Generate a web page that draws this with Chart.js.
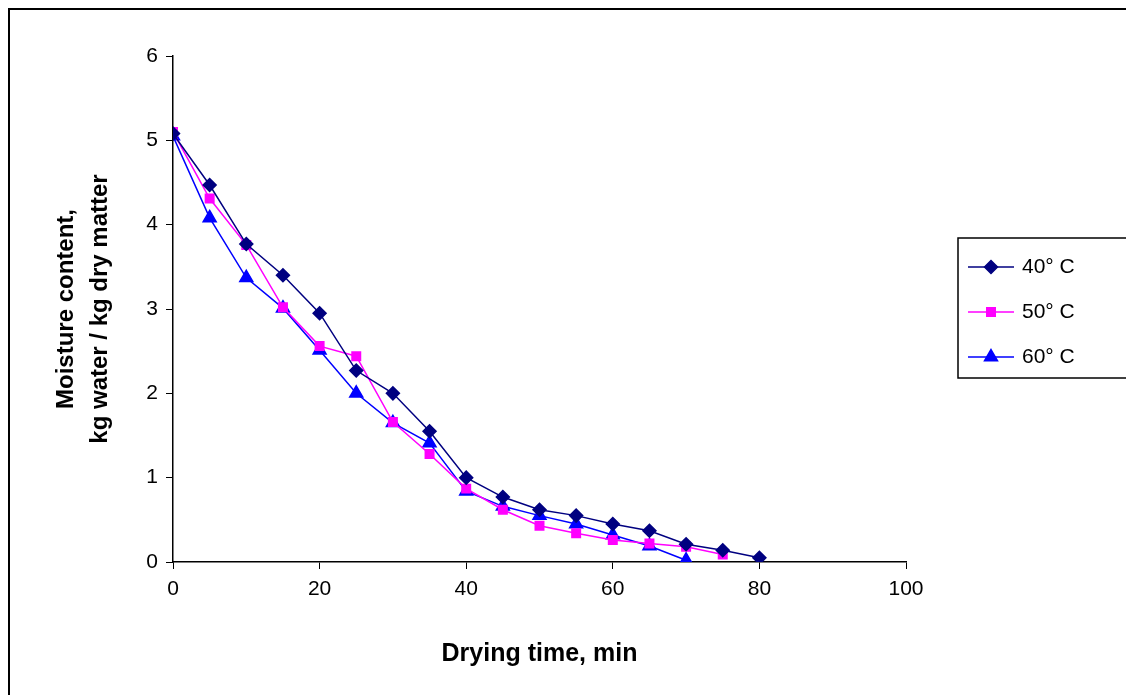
<!DOCTYPE html>
<html>
<head>
<meta charset="utf-8">
<script src="https://cdn.jsdelivr.net/npm/chart.js@4"></script>
<style>
  body { margin: 0; background: #fff; }
  #frame { position: absolute; left: 8px; top: 8px; width: 1130px; height: 690px; border: 2px solid #000; }
  #wrap { position: absolute; left: 0; top: 0; width: 1126px; height: 695px; }
</style>
</head>
<body>
<div id="frame"></div>
<div id="wrap"><canvas id="dryingChart"></canvas></div>
<script>
var time40 = [0, 5, 10, 15, 20, 25, 30, 35, 40, 45, 50, 55, 60, 65, 70, 75, 80];
var moisture40 = [5.08, 4.47, 3.77, 3.40, 2.95, 2.27, 2.00, 1.55, 1.00, 0.77, 0.62, 0.55, 0.45, 0.37, 0.21, 0.14, 0.05];
var time50 = [0, 5, 10, 15, 20, 25, 30, 35, 40, 45, 50, 55, 60, 65, 70, 75];
var moisture50 = [5.10, 4.31, 3.76, 3.02, 2.56, 2.44, 1.66, 1.28, 0.87, 0.62, 0.43, 0.34, 0.26, 0.22, 0.18, 0.09];
var time60 = [0, 5, 10, 15, 20, 25, 30, 35, 40, 45, 50, 55, 60, 65, 70];
var moisture60 = [5.05, 4.08, 3.37, 3.01, 2.51, 2.00, 1.65, 1.41, 0.84, 0.66, 0.55, 0.45, 0.32, 0.19, 0.02];
var seriesNames = ['40\u00b0 C', '50\u00b0 C', '60\u00b0 C'];

function pts(xs, ys) { return xs.map((x, i) => ({ x: x, y: ys[i] })); }

var font = 'Liberation Sans, Arial, sans-serif';

var boxLegend = {
    id: 'boxLegend',
    afterDraw: function(chart) {
        var ctx = chart.ctx;
        ctx.save();
        ctx.strokeStyle = '#000';
        ctx.lineWidth = 1.5;
        ctx.strokeRect(958, 238, 180, 140);
        chart.data.datasets.forEach(function(ds, i) {
            var y = 267 + i * 45;
            ctx.strokeStyle = ds.borderColor;
            ctx.lineWidth = 1.5;
            ctx.beginPath(); ctx.moveTo(968, y); ctx.lineTo(1014, y); ctx.stroke();
            ctx.fillStyle = ds.pointBackgroundColor;
            ctx.strokeStyle = ds.pointBackgroundColor;
            Chart.helpers.drawPoint(ctx, { pointStyle: ds.pointStyle, radius: ds.pointRadius, borderWidth: 1 }, 991, y);
            ctx.fillStyle = '#000';
            ctx.font = '21px ' + font;
            ctx.textBaseline = 'middle';
            ctx.fillText(ds.label, 1022, y);
        });
        ctx.restore();
    }
};

var ctx = document.getElementById('dryingChart').getContext('2d');
new Chart(ctx, {
    type: 'line',
    data: {
        datasets: [
            { label: seriesNames[0], data: pts(time40, moisture40), borderColor: '#000080', backgroundColor: '#000080',
              pointBackgroundColor: '#000080', pointStyle: 'rectRot', pointRadius: 6.5, borderWidth: 1.5 },
            { label: seriesNames[1], data: pts(time50, moisture50), borderColor: '#FF00FF', backgroundColor: '#FF00FF',
              pointBackgroundColor: '#FF00FF', pointStyle: 'rect', pointRadius: 6, borderWidth: 1.5 },
            { label: seriesNames[2], data: pts(time60, moisture60), borderColor: '#0000FF', backgroundColor: '#0000FF',
              pointBackgroundColor: '#0000FF', pointStyle: 'triangle', pointRadius: 7.5, borderWidth: 1.5 }
        ]
    },
    options: {
        responsive: true,
        maintainAspectRatio: false,
        animation: false,
        layout: { padding: { left: 46, top: 56, right: 220, bottom: 22 } },
        plugins: { legend: { display: false }, tooltip: { enabled: false } },
        scales: {
            x: {
                type: 'linear', min: 0, max: 100,
                ticks: { stepSize: 20, color: '#000', font: { size: 21, family: font }, padding: 8 },
                grid: { drawOnChartArea: false, color: '#000', tickLength: 7 },
                border: { color: '#000', width: 1.5 },
                title: { display: true, text: 'Drying time, min', color: '#000', font: { size: 25, weight: 'bold', family: font }, padding: { top: 16 } },
                afterFit: function(s) { s.height = 111; }
            },
            y: {
                min: 0, max: 6,
                ticks: { stepSize: 1, color: '#000', font: { size: 21, family: font }, padding: 8 },
                grid: { drawOnChartArea: false, color: '#000', tickLength: 7 },
                border: { color: '#000', width: 1.5 },
                title: { display: true, text: ['Moisture content,', 'kg water / kg dry matter'], color: '#000', font: { size: 24, weight: 'bold', family: font, lineHeight: 1.4 }, padding: { bottom: 10 } },
                afterFit: function(s) { s.width = 127; }
            }
        }
    },
    plugins: [boxLegend]
});
</script>
</body>
</html>
